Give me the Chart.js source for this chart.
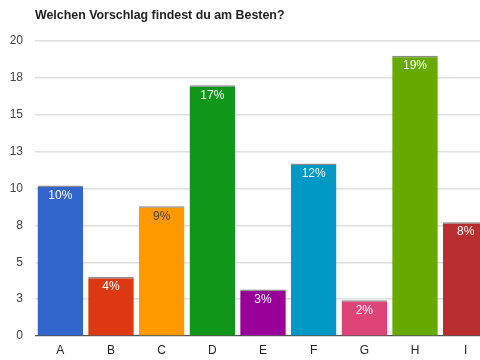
<!DOCTYPE html>
<html>
<head>
<meta charset="utf-8">
<script src="https://cdn.jsdelivr.net/npm/chart.js@4/dist/chart.umd.min.js"></script>
<style>
html,body{margin:0;padding:0;background:#fff;overflow:hidden;width:480px;height:360px;}
#wrap{width:491px;height:360px;}
</style>
</head>
<body>
<div id="wrap"><canvas id="c" width="491" height="360"></canvas></div>
<script>
const titleText = 'Welchen Vorschlag findest du am Besten?';
const categories = ['A','B','C','D','E','F','G','H','I'];
const values = [10.2, 4.0, 8.8, 17.0, 3.15, 11.7, 2.42, 19.0, 7.72];
const percentLabels = ['10%','4%','9%','17%','3%','12%','2%','19%','8%'];
const barColors = ['#3366cc','#dc3912','#ff9900','#109618','#990099','#0099c6','#dd4477','#66aa00','#b82e2e'];
const labelColors = ['#fff','#fff','#444','#fff','#fff','#fff','#fff','#fff','#fff'];
const yTickLabels = ['0','3','5','8','10','13','15','18','20'];

const FONT = '"Liberation Sans", Arial, sans-serif';

const titlePlugin = {
  id: 'titleText',
  afterDraw(chart) {
    const ctx = chart.ctx;
    ctx.save();
    ctx.font = 'bold 12.4px ' + FONT;
    ctx.fillStyle = '#222';
    ctx.textAlign = 'left';
    ctx.textBaseline = 'middle';
    ctx.fillText(titleText, chart.chartArea.left, 16);
    ctx.restore();
  }
};

const labelPlugin = {
  id: 'barLabels',
  afterDatasetsDraw(chart) {
    const ctx = chart.ctx;
    const meta = chart.getDatasetMeta(0);
    ctx.save();
    ctx.font = '12px ' + FONT;
    ctx.textAlign = 'center';
    ctx.textBaseline = 'middle';
    meta.data.forEach((bar, i) => {
      ctx.fillStyle = labelColors[i];
      ctx.fillText(percentLabels[i], bar.x, bar.y + 10);
    });
    ctx.restore();
  }
};

new Chart(document.getElementById('c'), {
  type: 'bar',
  data: {
    labels: categories,
    datasets: [{
      data: values,
      backgroundColor: barColors,
      borderColor: 'rgba(100,100,100,0.75)',
      borderWidth: {top: 1.5, left: 0, right: 0, bottom: 0},
      borderSkipped: false,
      barPercentage: 0.9,
      categoryPercentage: 1.0
    }]
  },
  options: {
    responsive: false,
    animation: false,
    layout: {padding: {top: 41, left: 0, right: 0, bottom: 0}},
    plugins: {legend: {display: false}, tooltip: {enabled: false}, title: {display: false}},
    scales: {
      x: {
        grid: {display: false, drawTicks: false},
        border: {display: false},
        ticks: {font: {size: 12, family: FONT}, color: '#222', padding: 7},
        afterFit(scale) { scale.height = 24; }
      },
      y: {
        min: 0, max: 20,
        ticks: {
          stepSize: 2.5,
          font: {size: 12, family: FONT},
          color: '#444',
          padding: 12,
          callback: (v, i) => yTickLabels[i]
        },
        grid: {
          drawTicks: false,
          color: ctx => ctx.tick && ctx.tick.value === 0 ? '#555' : '#e0e0e0',
          lineWidth: ctx => ctx.tick && ctx.tick.value === 0 ? 1.2 : 1.5
        },
        border: {display: false},
        afterFit(scale) { scale.width = 35; }
      }
    }
  },
  plugins: [titlePlugin, labelPlugin]
});
</script>
</body>
</html>
